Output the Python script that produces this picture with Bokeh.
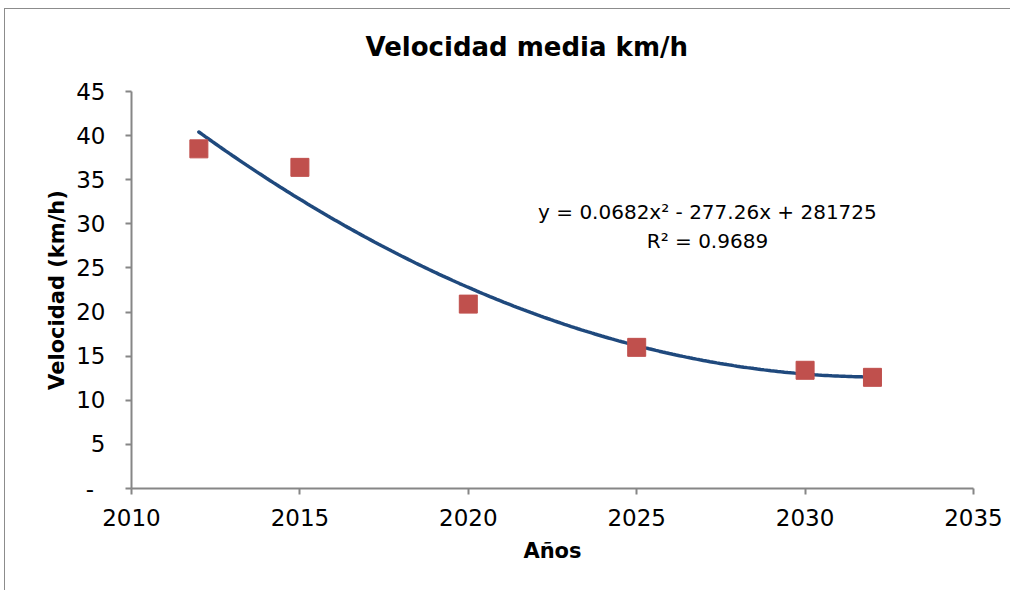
import numpy as np
from bokeh.plotting import figure
from bokeh.models import Range1d, FixedTicker, Label, Title
from bokeh.embed import file_html
from bokeh.resources import INLINE

# Data
years = [2012, 2015, 2020, 2025, 2030, 2032]
speed = [38.5, 36.4, 20.9, 16.0, 13.4, 12.6]

title_text = "Velocidad media km/h"
x_label = "Años"
y_label = "Velocidad (km/h)"
eq_text = "y = 0.0682x² - 277.26x + 281725"
r2_text = "R² = 0.9689"
x_ticks = [2010, 2015, 2020, 2025, 2030, 2035]
y_ticks = [0, 5, 10, 15, 20, 25, 30, 35, 40, 45]

FONT = "DejaVu Sans"
AXIS_COLOR = "#868686"

p = figure(width=1010, height=590, output_backend="svg", toolbar_location=None,
           x_range=Range1d(2010, 2035), y_range=Range1d(0, 45),
           min_border_left=131, min_border_right=37, min_border_top=91, min_border_bottom=102)
# thin chart-area border on the left and top (inset shadows, drawn behind a transparent border area)
p.styles = {"box-shadow": ("inset 4px 8px 0px 0px #ffffff, "
                           "inset 5px 0px 0px 0px #8c8c8c, inset 0px 9px 0px 0px #8c8c8c")}
p.border_fill_color = None
p.background_fill_color = "white"
p.outline_line_color = None
p.xgrid.visible = False
p.ygrid.visible = False

# Quadratic trendline fitted from the data (like the spreadsheet's trendline)
xm = np.mean(years)
coef = np.polyfit(np.array(years) - xm, np.array(speed), 2)
xs = np.linspace(min(years), max(years), 200)
ys = np.polyval(coef, xs - xm)
p.line(xs, ys, line_color="#1F497D", line_width=3.5, line_cap="round")

p.scatter(years, speed, marker="square", size=18, fill_color="#C0504D", line_color="#C0504D")

for ax in (p.xaxis, p.yaxis):
    ax.axis_line_color = AXIS_COLOR
    ax.axis_line_width = 2
    ax.major_tick_line_color = AXIS_COLOR
    ax.major_tick_line_width = 2
    ax.major_tick_out = 6
    ax.major_tick_in = 0
    ax.minor_tick_line_color = None
    ax.major_label_text_font = FONT
    ax.major_label_text_font_size = "23px"
    ax.major_label_text_color = "black"
    ax.axis_label_text_font = FONT
    ax.axis_label_text_font_size = "21px"
    ax.axis_label_text_font_style = "bold"
    ax.axis_label_text_color = "black"

p.xaxis.ticker = FixedTicker(ticks=x_ticks)
p.yaxis.ticker = FixedTicker(ticks=y_ticks)
p.yaxis.major_label_overrides = {0: "-\u2002"}
p.xaxis.major_label_standoff = 14
p.yaxis.major_label_standoff = 20
p.xaxis.axis_label = x_label
p.yaxis.axis_label = y_label
p.xaxis.axis_label_standoff = 10
p.yaxis.axis_label_standoff = 4

p.add_layout(Title(text=title_text, align="left", offset=234, text_font=FONT,
                   text_font_size="26px", text_font_style="bold", text_color="black",
                   standoff=59), "above")

p.add_layout(Label(x=2027.1, y=31.3, text=eq_text, text_font=FONT, text_font_size="20px",
                   text_align="center", text_baseline="middle", text_color="black"))
p.add_layout(Label(x=2027.1, y=28.1, text=r2_text, text_font=FONT, text_font_size="20px",
                   text_align="center", text_baseline="middle", text_color="black"))

open("out.html", "w").write(file_html(p, INLINE))
